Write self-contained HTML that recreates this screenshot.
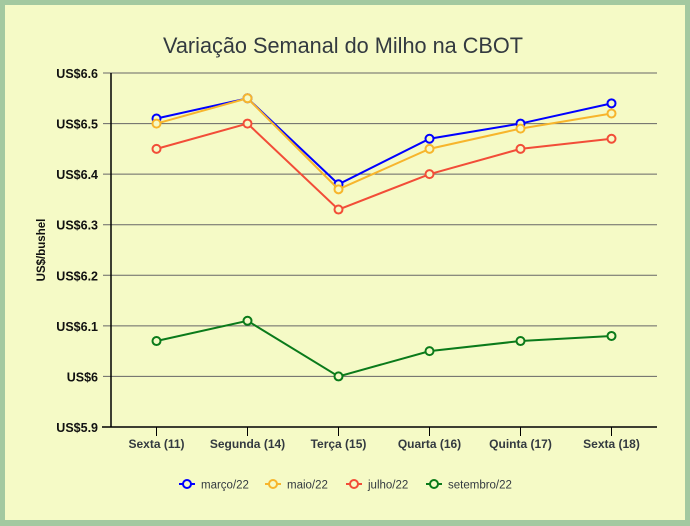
<!DOCTYPE html>
<html><head><meta charset="utf-8"><style>
html,body{margin:0;padding:0;}
body{width:690px;height:526px;background:#a3c9a0;position:relative;overflow:hidden;font-family:"Liberation Sans",sans-serif;}
#panel{position:absolute;left:5px;top:5px;width:680px;height:515px;background:#f5fac6;}
svg{position:absolute;left:0;top:0;}
</style></head><body>
<div id="panel"></div>
<svg id="chart" width="690" height="526"></svg>
<script>
const categories=["Sexta (11)","Segunda (14)","Terça (15)","Quarta (16)","Quinta (17)","Sexta (18)"];
const marco=[6.51,6.55,6.38,6.47,6.50,6.54];
const maio=[6.50,6.55,6.37,6.45,6.49,6.52];
const julho=[6.45,6.50,6.33,6.40,6.45,6.47];
const setembro=[6.07,6.11,6.00,6.05,6.07,6.08];
const yTicks=[5.9,6.0,6.1,6.2,6.3,6.4,6.5,6.6];
const yTickLabels=["US$5.9","US$6","US$6.1","US$6.2","US$6.3","US$6.4","US$6.5","US$6.6"];
const seriesNames=["março/22","maio/22","julho/22","setembro/22"];
const NS="http://www.w3.org/2000/svg";
const svg=document.getElementById('chart');
const L=111,R=657,T=73,B=427;
const yMin=5.9,yMax=6.6;
function y(v){return B-(v-yMin)/(yMax-yMin)*(B-T);}
function x(i){return L+(R-L)/categories.length*(i+0.5);}
function el(tag,attrs,txt){const e=document.createElementNS(NS,tag);for(const k in attrs)e.setAttribute(k,attrs[k]);if(txt!==undefined)e.textContent=txt;svg.appendChild(e);return e;}
let t=el('text',{x:163,y:53,'font-size':22,fill:'#333a40',textLength:360,lengthAdjust:'spacingAndGlyphs'},'Variação Semanal do Milho na CBOT');

yTicks.forEach((v,i)=>{
 const g=el('line',{x1:103,x2:R,y1:y(v),y2:y(v),stroke:i==0?'#000':'#666','stroke-width':1});
 
 const tl=el('text',{x:98,y:y(v)+5,'text-anchor':'end','font-size':12.5,'font-weight':'bold',fill:'#111'},yTickLabels[i]);
 
});
let ax=el('line',{x1:L,x2:L,y1:T,y2:B,stroke:'#000','stroke-width':1.5});

let xa=el('line',{x1:102,x2:R,y1:B,y2:B,stroke:'#000','stroke-width':1.5});

let yt=el('text',{x:0,y:0,transform:'translate(45,250) rotate(-90)','text-anchor':'middle','font-size':11.5,'font-weight':'bold',fill:'#111'},'US$/bushel');

categories.forEach((c,i)=>{
 const tk=el('line',{x1:x(i),x2:x(i),y1:B,y2:B+9,stroke:'#000','stroke-width':1});
 
 const tl=el('text',{x:x(i),y:448,'text-anchor':'middle','font-size':12,'font-weight':'bold',fill:'#333a40'},c);
 
});
const series=[marco,maio,julho,setembro];
const colors=['#0000ff','#f7b52c','#f24d38','#0a7a1a'];
series.forEach((s,si)=>{
 const pts=s.map((v,i)=>x(i)+','+y(v)).join(' ');
 const pl=el('polyline',{points:pts,fill:'none',stroke:colors[si],'stroke-width':2});
 
 s.forEach((v,i)=>{
  const c=el('circle',{cx:x(i),cy:y(v),r:4,fill:'#f5fac6',stroke:colors[si],'stroke-width':2});
  
 });
});
const legX=[187,273,354,434];
seriesNames.forEach((n,i)=>{
 const lx=legX[i];
 const ln=el('line',{x1:lx-8,x2:lx+8,y1:484,y2:484,stroke:colors[i],'stroke-width':2});
 
 const c=el('circle',{cx:lx,cy:484,r:4,fill:'#f5fac6',stroke:colors[i],'stroke-width':2});
 
 const tx=el('text',{x:lx+14,y:488.5,'font-size':11.5,fill:'#333a40'},n);
 
});
</script>
</body></html>
